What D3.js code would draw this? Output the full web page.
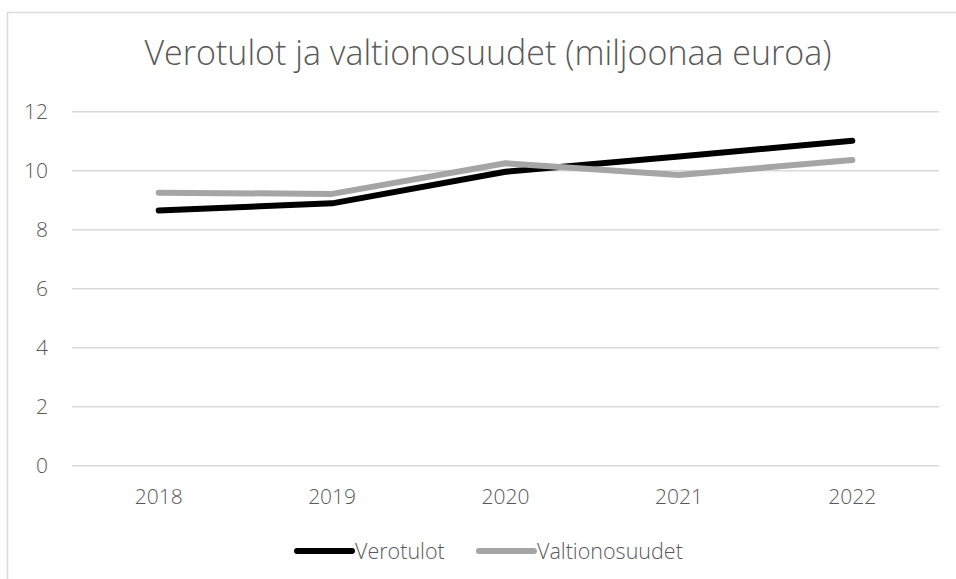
<!DOCTYPE html>
<html>
<head>
<meta charset="utf-8">
<script src="https://cdn.jsdelivr.net/npm/d3@7"></script>
<style>
  body { margin: 0; background: #fff; }
  text { font-family: "Open Sans", "Noto Sans", sans-serif; font-weight: 300; fill: #595959; }
</style>
</head>
<body>
<div class="chart"></div>
<script>
var years = ["2018", "2019", "2020", "2021", "2022"];
var verotulot = [8.64, 8.88, 9.95, 10.47, 11.0];
var valtionosuudet = [9.24, 9.2, 10.24, 9.84, 10.35];
var yTicks = [0, 2, 4, 6, 8, 10, 12];
var titleText = "Verotulot ja valtionosuudet (miljoonaa euroa)";

var width = 956;
var height = 579;
var plot = { left: 72, right: 939, top: 111.3, bottom: 465.3 };

var series = [
  { name: "Verotulot", values: verotulot, color: "#000000" },
  { name: "Valtionosuudet", values: valtionosuudet, color: "#a5a5a5" }
];

var svg = d3.select(".chart").append("svg")
  .attr("width", width)
  .attr("height", height);

/* chart frame, cut off at right and bottom */
svg.append("rect")
  .attr("x", 7.5).attr("y", 12.5)
  .attr("width", 1000).attr("height", 1000)
  .attr("fill", "none")
  .attr("stroke", "#d9d9d9")
  .attr("stroke-width", 1.5);

/* Scales */
var xScale = d3.scaleBand()
  .domain(years)
  .range([plot.left, plot.right]);

var yScale = d3.scaleLinear()
  .domain([0, 12])
  .range([plot.bottom, plot.top]);

/* Title */
svg.append("text")
  .attr("x", 488)
  .attr("y", 65)
  .attr("text-anchor", "middle")
  .style("font-size", "34px")
  .text(titleText);

/* Gridlines + y labels */
var yAxis = d3.axisLeft(yScale)
  .tickValues(yTicks)
  .tickSize(-(plot.right - plot.left))
  .tickPadding(24)
  .tickFormat(d3.format("d"));

var gy = svg.append("g")
  .attr("transform", `translate(${plot.left},0)`)
  .call(yAxis);
gy.select(".domain").remove();
gy.selectAll(".tick line").attr("stroke", "#d9d9d9").attr("stroke-width", 1.5);
gy.selectAll(".tick text").style("font-size", "21px").attr("dy", "0.35em");

/* x labels */
var xAxis = d3.axisBottom(xScale).tickSize(0).tickPadding(24);
var gx = svg.append("g")
  .attr("transform", `translate(0,${plot.bottom})`)
  .call(xAxis);
gx.select(".domain").remove();
gx.selectAll(".tick text").style("font-size", "21px");

/* Lines */
var line = d3.line()
  .x((d, i) => xScale(years[i]) + xScale.bandwidth() / 2)
  .y(d => yScale(d));

svg.append("g").selectAll("path")
  .data(series).enter()
  .append("path")
  .attr("d", d => line(d.values))
  .attr("fill", "none")
  .attr("stroke", d => d.color)
  .attr("stroke-width", 6)
  .attr("stroke-linecap", "round")
  .attr("stroke-linejoin", "round");

/* Legend */
var legendX = [297, 479];
var legend = svg.append("g").selectAll("g")
  .data(series).enter()
  .append("g")
  .attr("transform", (d, i) => `translate(${legendX[i]},551)`);

legend.append("line")
  .attr("x1", 0).attr("x2", 55)
  .attr("stroke", d => d.color)
  .attr("stroke-width", 6)
  .attr("stroke-linecap", "round");

legend.append("text")
  .attr("x", 58)
  .attr("dy", "0.35em")
  .style("font-size", "21.5px")
  .text(d => d.name);
</script>
</body>
</html>
